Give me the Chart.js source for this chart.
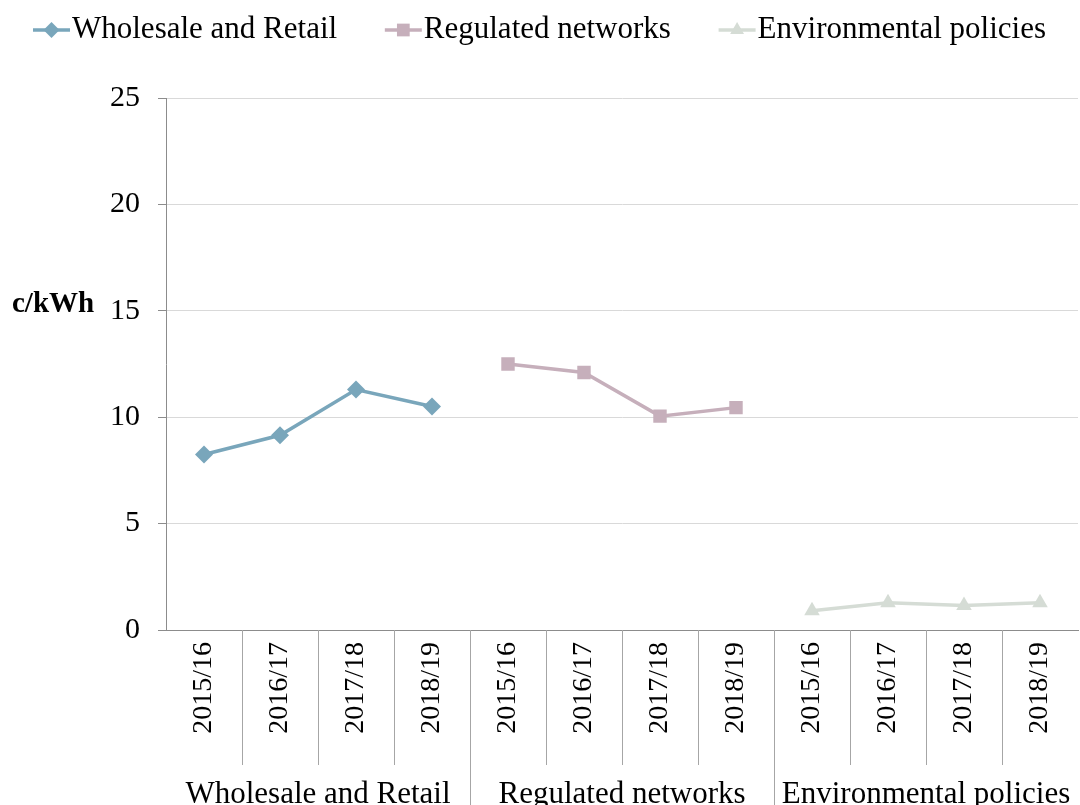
<!DOCTYPE html>
<html><head><meta charset="utf-8">
<script src="https://cdn.jsdelivr.net/npm/chart.js@4/dist/chart.umd.min.js"></script>
<style>html,body{margin:0;padding:0;background:#fff;overflow:hidden;} #wrap{width:1080px;height:805px;}</style>
</head><body><div id="wrap"><canvas id="c" width="1080" height="805"></canvas></div>
<script>
const periods = ['2015/16', '2016/17', '2017/18', '2018/19'];
const groups = ['Wholesale and Retail', 'Regulated networks', 'Environmental policies'];
const wholesaleRetail = [8.25, 9.15, 11.3, 10.5];
const regulatedNetworks = [12.5, 12.1, 10.05, 10.45];
const environmentalPolicies = [0.9, 1.28, 1.15, 1.28];
const yTicks = [0, 5, 10, 15, 20, 25];
const yUnit = 'c/kWh';

const FONT = "'Liberation Serif', 'Times New Roman', serif";
Chart.defaults.font.family = FONT;
Chart.defaults.color = '#000';

const categories = [];
groups.forEach(() => periods.forEach(p => categories.push(p)));

function place(values, g) {
  const arr = new Array(categories.length).fill(null);
  values.forEach((v, i) => { arr[g * periods.length + i] = v; });
  return arr;
}

const seriesDefs = [
  { label: groups[0], values: wholesaleRetail, color: '#79a6bb', style: 'rectRot', radius: 9 },
  { label: groups[1], values: regulatedNetworks, color: '#c6afbb', style: 'rect', radius: 9.5 },
  { label: groups[2], values: environmentalPolicies, color: '#d5dcd5', style: 'triangle', radius: 9 }
];

const datasets = seriesDefs.map((s, g) => ({
  label: s.label,
  data: place(s.values, g),
  borderColor: s.color,
  backgroundColor: s.color,
  pointBackgroundColor: s.color,
  pointBorderColor: s.color,
  pointBorderWidth: 0,
  pointStyle: s.style,
  pointRadius: s.radius,
  borderWidth: 3.5,
  tension: 0,
  spanGaps: false,
  xAxisID: 'x',
  yAxisID: 'y'
}));

function drawMarker(ctx, style, r, x, y) {
  ctx.beginPath();
  if (style === 'rectRot') {
    ctx.moveTo(x, y - r); ctx.lineTo(x + r, y); ctx.lineTo(x, y + r); ctx.lineTo(x - r, y);
  } else if (style === 'rect') {
    const s = r * Math.SQRT1_2;
    ctx.rect(x - s, y - s, 2 * s, 2 * s);
  } else {
    ctx.moveTo(x, y - r); ctx.lineTo(x + r * 0.866, y + r * 0.5); ctx.lineTo(x - r * 0.866, y + r * 0.5);
  }
  ctx.closePath();
  ctx.fill();
}

const decor = {
  id: 'decor',
  afterDraw(chart) {
    const ctx = chart.ctx;
    const xs = chart.scales.x, x2 = chart.scales.x2, ys = chart.scales.y;
    ctx.save();
    // category separators
    ctx.strokeStyle = '#a6a6a6';
    ctx.lineWidth = 1;
    for (let i = 1; i < categories.length; i++) {
      const px = Math.round((xs.getPixelForValue(i - 1) + xs.getPixelForValue(i)) / 2) + 0.5;
      const isGroup = i % periods.length === 0;
      ctx.beginPath();
      ctx.moveTo(px, xs.top);
      ctx.lineTo(px, isGroup ? x2.bottom : xs.bottom);
      ctx.stroke();
    }
    // unit label
    ctx.fillStyle = '#000';
    ctx.font = 'bold 29px ' + FONT;
    ctx.textAlign = 'left';
    ctx.textBaseline = 'middle';
    ctx.fillText(yUnit, 12, ys.getPixelForValue(15) - 6);
    // legend
    ctx.font = '31px ' + FONT;
    const segW = 37, txtGap = 2;
    const widths = seriesDefs.map(s => segW + txtGap + ctx.measureText(s.label).width);
    const left = 33, right = 1046;
    const gap = (right - left - widths.reduce((a, b) => a + b, 0)) / (seriesDefs.length - 1);
    let x = left;
    const ly = 30;
    seriesDefs.forEach((s, i) => {
      ctx.strokeStyle = s.color;
      ctx.fillStyle = s.color;
      ctx.lineWidth = 3.5;
      ctx.beginPath();
      ctx.moveTo(x, ly); ctx.lineTo(x + segW, ly);
      ctx.stroke();
      drawMarker(ctx, s.style, s.style === 'rect' ? 9 : 8, x + segW / 2, ly);
      ctx.fillStyle = '#000';
      ctx.fillText(s.label, x + segW + txtGap, ly);
      x += widths[i] + gap;
    });
    ctx.restore();
  }
};

function noSidePad(s) { s.paddingLeft = 0; s.paddingRight = 0; }

new Chart(document.getElementById('c'), {
  type: 'line',
  data: { labels: categories, datasets },
  plugins: [decor],
  options: {
    responsive: false,
    animation: false,
    devicePixelRatio: 1,
    layout: { autoPadding: false, padding: { top: 98, right: 2, left: 0, bottom: 0 } },
    plugins: { legend: { display: false }, tooltip: { enabled: false } },
    scales: {
      x: {
        type: 'category',
        position: 'bottom',
        offset: true,
        grid: { display: true, drawOnChartArea: false, drawTicks: false },
        border: { display: true, color: '#8c8c8c', width: 1 },
        ticks: { minRotation: 90, maxRotation: 90, autoSkip: false, padding: 12, color: '#000', font: { size: 28 } },
        afterFit(s) { s.height = 135; noSidePad(s); }
      },
      x2: {
        type: 'category',
        labels: groups,
        position: 'bottom',
        offset: true,
        grid: { display: false },
        border: { display: false },
        ticks: { maxRotation: 0, minRotation: 0, autoSkip: false, padding: 3, color: '#000', font: { size: 31 } },
        afterFit(s) { s.height = 40; noSidePad(s); }
      },
      y: {
        min: yTicks[0],
        max: yTicks[yTicks.length - 1],
        afterBuildTicks(s) { s.ticks = yTicks.map(v => ({ value: v })); },
        ticks: { padding: 18, color: '#000', font: { size: 30 } },
        grid: { color: '#d9d9d9', tickColor: '#8c8c8c', tickLength: 8, lineWidth: 1 },
        border: { display: true, color: '#8c8c8c', width: 1 },
        afterFit(s) { s.width = 166; s.paddingTop = 0; s.paddingBottom = 0; }
      }
    }
  }
});
</script>
</body></html>
